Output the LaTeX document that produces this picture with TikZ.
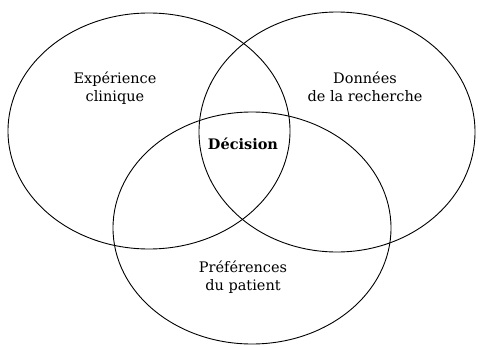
\documentclass[tikz,border=0pt]{standalone}
\usepackage{fontspec}
\setmainfont{DejaVu Serif}
\usetikzlibrary{positioning}

\begin{document}
\begin{tikzpicture}[x=1pt, y=-1pt, line width=0.9pt]

\tikzset{
  label text/.style={align=center, font=\fontsize{14.5}{18}\selectfont, inner sep=0pt},
}

\pgfmathsetmacro{\xmax}{478}
\pgfmathsetmacro{\ymax}{345}

% --- Cadre ---
\useasboundingbox (0,0) rectangle (\xmax,\ymax);

% --- Ellipses ---
\draw (149,131) ellipse [x radius=141, y radius=118];
\draw (337,132) ellipse [x radius=138, y radius=120];
\draw (252,228) ellipse [x radius=139, y radius=116];

% --- Textes ---
\node [label text] (experience) at (115,88) {Expérience\\clinique};
\node [label text] (donnees) at (365,87) {Données\\de la recherche};
\node [label text, font=\fontsize{14.5}{18}\selectfont\bfseries] (decision) at (243,144) {Décision};
\node [label text] (preferences) at (243,277) {Préférences\\du patient};

\end{tikzpicture}
\end{document}
